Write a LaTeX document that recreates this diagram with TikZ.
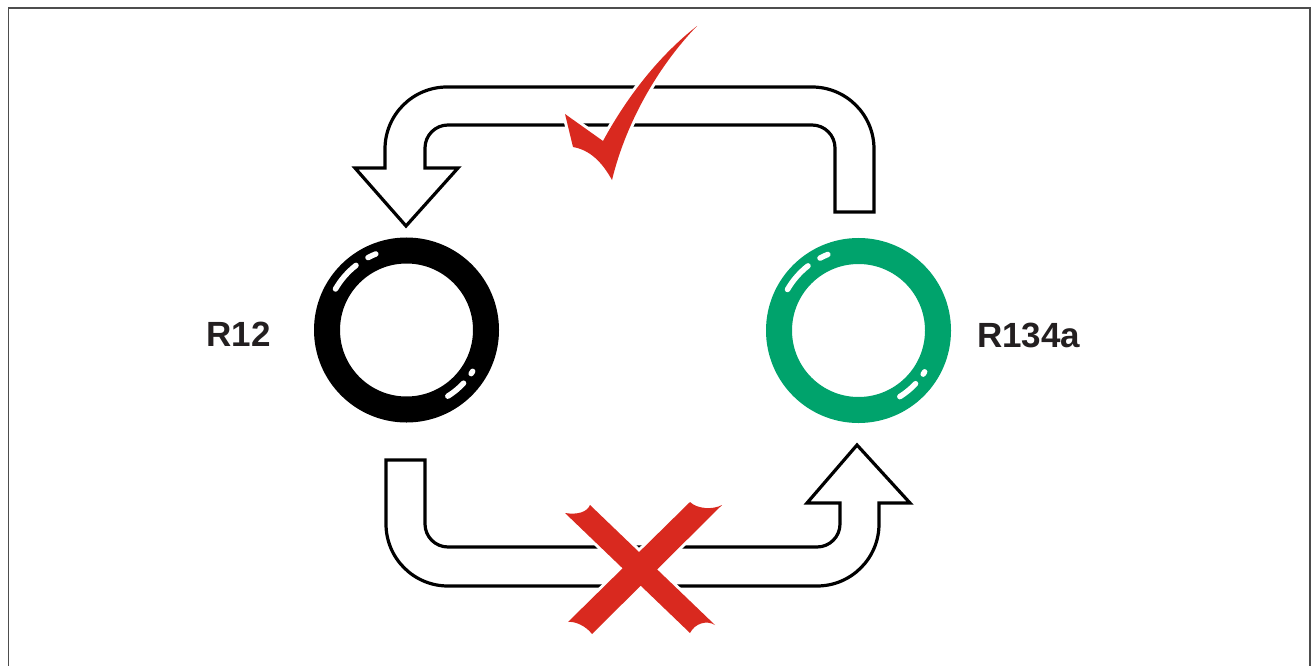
\documentclass[tikz,border=0pt]{standalone}
\usepackage{fontspec}
\setsansfont{Liberation Sans}
\usepackage{tikz}
\usetikzlibrary{positioning}
\usepackage{xcolor}
\definecolor{framegray}{HTML}{4D4D4D}
\definecolor{ringgreen}{HTML}{00A36C}
\definecolor{markred}{HTML}{D9291F}
\definecolor{labelblack}{HTML}{231F20}

\begin{document}
\begin{tikzpicture}[
  x=1pt, y=-1pt,
  font=\sffamily,
  tube/.style={draw=black, line width=3.2pt, fill=white, line join=miter},
  ring/.style={circle, inner sep=0pt, minimum size=159pt, line width=26pt},
  shine/.style={draw=white, line width=5.5pt, line cap=round},
  gaslabel/.style={font=\sffamily\bfseries\fontsize{35}{40}\selectfont, text=labelblack, inner sep=0pt},
  redmark/.style={fill=markred, preaction={draw=white, line width=6pt, line join=round}}
]

  \useasboundingbox (0,0) rectangle (1316,666);

  % Frame (open at the bottom)
  \draw[framegray, line width=1.5pt] (8.5,666) -- (8.5,8) -- (1310,8) -- (1310,666);

  % Top arrow: R134a back to R12
  \draw[tube] (835,212) -- (835,148) arc[start angle=0, end angle=-90, radius=23]
    -- (448,125) arc[start angle=-90, end angle=-180, radius=23]
    -- (425,168) -- (458,168) -- (406,226) -- (355,168) -- (385,168)
    -- (385,149) arc[start angle=180, end angle=270, radius=62]
    -- (812,87) arc[start angle=270, end angle=360, radius=62]
    -- (874,212) -- cycle;

  % Bottom arrow: R12 to R134a
  \draw[tube] (386,460) -- (425,460) -- (425,524) arc[start angle=180, end angle=90, radius=23]
    -- (817,547) arc[start angle=90, end angle=0, radius=23]
    -- (840,503) -- (807,503) -- (857,445) -- (910,503) -- (879,503)
    -- (879,524) arc[start angle=0, end angle=90, radius=62]
    -- (448,586) arc[start angle=90, end angle=180, radius=62]
    -- cycle;

  % Rings
  \node[ring, draw=black] (r12ring) at (406.5,330) {};
  \node[ring, draw=ringgreen] (r134ring) at (858.5,330.5) {};

  % Highlights on the rings
  \foreach \ring in {r12ring, r134ring} {
    \draw[shine] (\ring.center) ++(-150:82) arc[start angle=-150, end angle=-128, radius=82];
    \draw[shine] (\ring.center) ++(-118:82) arc[start angle=-118, end angle=-112, radius=82];
    \draw[shine] (\ring.center) ++(43:78) arc[start angle=43, end angle=58, radius=78];
    \draw[shine] (\ring.center) ++(32:78) arc[start angle=32, end angle=34, radius=78];
  }

  % Labels
  \node[gaslabel, left=43pt of r12ring, yshift=-4pt] (r12label) {R12};
  \node[gaslabel, right=26pt of r134ring, yshift=-5pt] (r134label) {R134a};

  % Check mark on the top path
  \fill[redmark] (565,114) -- (603,141) .. controls (628,95) and (660,55) .. (697,26)
    .. controls (662,62) and (627,118) .. (612,180)
    .. controls (602,162) and (590,150) .. (573,147) -- cycle;

  % Cross on the bottom path
  \fill[redmark] (565,513) .. controls (578,515) and (587,512) .. (590,505)
    -- (715,625) .. controls (707,620) and (695,623) .. (690,633) -- cycle
    (690,502) .. controls (697,509) and (713,510) .. (722,505)
    -- (592,634) .. controls (586,626) and (575,621) .. (568,622) -- cycle;

\end{tikzpicture}
\end{document}
